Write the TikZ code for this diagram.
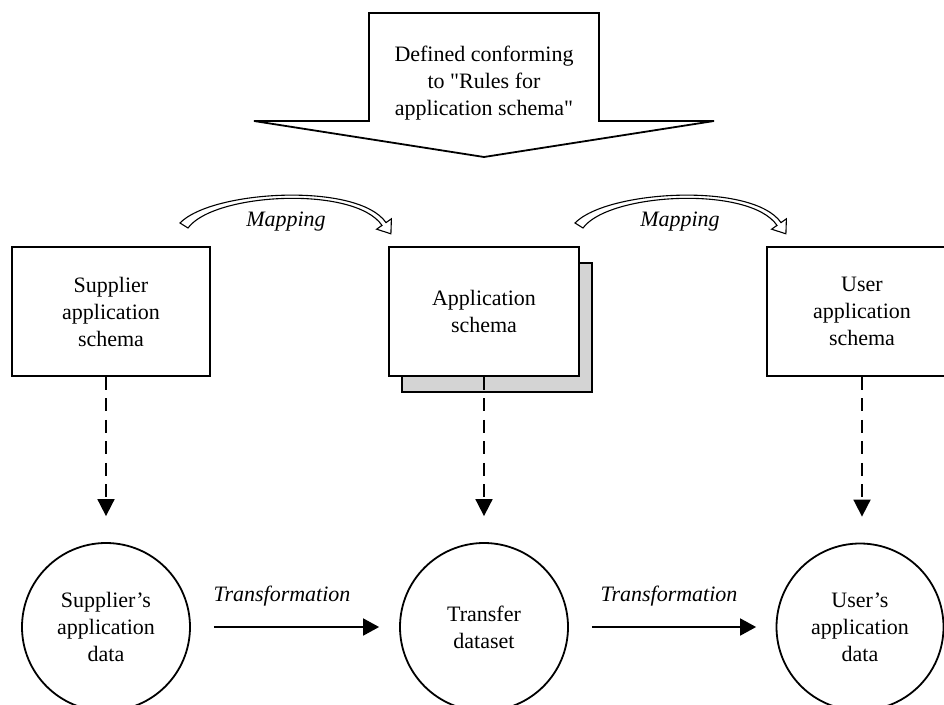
\documentclass[tikz,border=0pt]{standalone}
\usepackage{fontspec}
\setmainfont{Liberation Serif}
\usetikzlibrary{arrows.meta}
\newcommand\diafont{\fontsize{22}{27}\selectfont}
\begin{document}
\begin{tikzpicture}[x=1pt,y=-1pt,
  lbl/.style={font=\diafont, align=center, inner sep=0pt},
  ital/.style={font=\diafont\itshape, inner sep=0pt},
  schemabox/.style={draw, line width=1.8pt, fill=white, minimum width=198pt, minimum height=129pt, align=center, font=\diafont, inner sep=0pt},
  datacircle/.style={circle, draw, line width=1.8pt, fill=white, minimum size=168pt, inner sep=0pt, align=center, font=\diafont},
  dashconn/.style={line width=1.8pt, dash pattern=on 13pt off 8.5pt, -{Triangle[width=17pt,length=17pt]}, shorten >=26pt},
  transconn/.style={line width=1.8pt, -{Triangle[width=17pt,length=16pt]}},
  maparrow/.style={draw, line width=1.1pt, fill=white, line join=miter},
  bigarrow/.style={draw, line width=1.8pt, fill=white, line join=miter},
  mapping arrow/.pic={
    \draw[maparrow] (180,223) .. controls (212,190) and (358,182) .. (386,222.6)
      -- (391.4,218.8) -- (390.9,233.8) -- (376.6,229.2) -- (382,225.4)
      .. controls (355,185.5) and (214,192.5) .. (188,228) -- cycle;
  }
]
\useasboundingbox (0,0) rectangle (944,704);
\fill[white] (0,0) rectangle (944,704);

% top block arrow
\path[bigarrow] (369,13) -- (599,13) -- (599,121) -- (714,121) -- (484,157) -- (254,121) -- (369,121) -- cycle;
\node[lbl] (rules) at (484,83) {Defined conforming\\to \textquotedbl Rules for\\application schema\textquotedbl};

% mapping arrows
\pic at (0,0) {mapping arrow};
\pic at (395,0) {mapping arrow};
\node[ital] (map1) at (286,222) {Mapping};
\node[ital] (map2) at (680,222) {Mapping};

% schema boxes
\node[schemabox] (sup) at (111,311.5) {Supplier\\application\\schema};
\node[schemabox, minimum width=190pt, fill=black!17] (appsh) at (497,327.5) {};
\node[schemabox, minimum width=190pt] (app) at (484,311.5) {Application\\schema};
\node[schemabox, minimum width=190pt] (usr) at (862,311.5) {User\\application\\schema};

% data circles
\node[datacircle] (supd) at (106,627) {Supplier’s\\application\\data};
\node[datacircle] (trd) at (484,627) {Transfer\\dataset};
\node[datacircle, minimum size=167pt] (usrd) at (860,627) {User’s\\application\\data};

% dashed instantiation connectors
\draw[dashconn] (supd.north |- sup.south) -- (supd.north);
\draw[dashconn] (app.south) -- (trd.north);
\draw[dashconn] (usr.south) -- (usr.south |- usrd.north);

% transformations
\draw[transconn, shorten <=23pt, shorten >=20pt] (supd) -- (trd);
\draw[transconn, shorten <=23pt, shorten >=19.5pt] (trd) -- (usrd);
\node[ital] (tr1) at (282,596) {Transformation};
\node[ital] (tr2) at (669,596) {Transformation};
\end{tikzpicture}
\end{document}
